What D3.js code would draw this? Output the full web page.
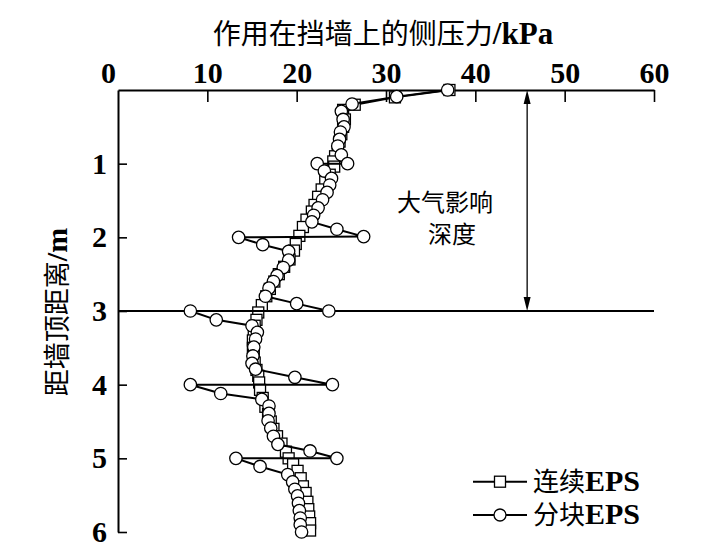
<!DOCTYPE html>
<html><head><meta charset="utf-8">
<script src="https://cdn.jsdelivr.net/npm/d3@7/dist/d3.min.js"></script>
<style>body{margin:0;background:#fff}</style>
</head><body>
<svg id="c" width="702" height="560"></svg>
<script>
// ---- data ----
const xTicks = [0, 10, 20, 30, 40, 50, 60];
const yTicks = [1, 2, 3, 4, 5, 6];
const seriesNames = ["连续EPS", "分块EPS"];
const contDepth = [0,0.1,0.2,0.27,0.4,0.5,0.6,0.7,0.8,0.9,0.97,1.04,1.15,1.24,1.35,1.45,1.56,1.65,1.76,1.86,1.98,2.09,2.18,2.3,2.4,2.5,2.6,2.7,2.8,2.92,3.02,3.12,3.2,3.3,3.4,3.5,3.6,3.7,3.8,3.88,3.97,4.07,4.18,4.3,4.4,4.5,4.6,4.7,4.8,4.91,5.0,5.08,5.17,5.27,5.38,5.47,5.59,5.69,5.79,5.88,5.98];
const contValue = [37.1,31.0,26.5,25.2,25.4,25.2,25.0,24.8,24.6,24.3,24.1,24.2,23.7,23.2,22.8,22.4,22.0,21.7,21.1,20.7,20.3,19.9,19.7,19.2,18.6,18.0,17.5,17.0,16.6,16.1,15.7,15.5,15.3,15.2,15.1,15.1,15.2,15.3,15.5,15.7,15.8,15.9,16.2,16.5,16.8,17.1,17.4,17.8,18.3,18.8,19.1,19.6,20.1,20.45,20.7,21.0,21.2,21.3,21.4,21.5,21.5];
const blockDepth = [0,0.09,0.19,0.29,0.4,0.5,0.57,0.67,0.76,0.88,1.0,1.0,1.1,1.2,1.29,1.39,1.49,1.6,1.7,1.79,1.89,1.99,2.0,2.1,2.19,2.31,2.41,2.52,2.6,2.69,2.8,2.9,3.0,3.0,3.12,3.2,3.29,3.38,3.49,3.61,3.71,3.79,3.9,4.0,4.0,4.12,4.2,4.29,4.39,4.49,4.59,4.7,4.81,4.9,5.0,5.0,5.11,5.22,5.32,5.42,5.51,5.61,5.71,5.81,5.9,6.0];
const blockValue = [36.9,31.2,26.2,25.0,25.2,25.3,24.9,24.8,24.6,25.0,25.7,22.3,23.1,23.9,23.7,23.4,22.9,22.4,21.9,21.7,24.5,27.5,13.5,16.2,19.1,19.1,18.5,17.8,17.4,16.9,16.5,20.0,23.6,8.1,11.0,15.0,15.6,15.4,15.2,15.1,15.0,15.4,19.8,24.0,8.1,11.5,16.1,16.9,16.9,16.8,17.1,17.4,17.9,21.5,24.5,13.2,15.9,19.0,19.55,19.8,20.1,20.2,20.3,20.4,20.4,20.55];
const influenceDepth = 3;
const arrowX = 45.8;

// ---- drawing ----
const svg = d3.select("#c");
const x = d3.scaleLinear().domain([0, 60]).range([118, 654]);
const y = d3.scaleLinear().domain([0, 6]).range([90, 532]);
const CJK = "'Noto Sans CJK SC', sans-serif";
const SERIF = "'Liberation Serif', 'Times New Roman', serif";

// top axis
const gx = svg.append("g").attr("transform", `translate(0,${y(0)})`)
  .call(d3.axisTop(x).tickValues(xTicks).tickFormat(d3.format("d")).tickSizeInner(-12).tickSizeOuter(0).tickPadding(7));
gx.select(".domain").attr("stroke-width", 2);
gx.selectAll(".tick line").attr("stroke-width", 1.6);
gx.selectAll(".tick text").attr("font-family", SERIF).attr("font-weight", "bold")
  .attr("font-size", 30).attr("fill", "#000")
  .attr("dx", d => d === 0 ? -10 : 0);
gx.selectAll(".tick").filter(d => d === 0).select("line").remove();

// left axis
const gy = svg.append("g").attr("transform", `translate(${x(0)},0)`)
  .call(d3.axisLeft(y).tickValues(yTicks).tickFormat(d3.format("d")).tickSizeInner(-9).tickSizeOuter(0).tickPadding(11));
gy.select(".domain").attr("stroke-width", 2);
gy.selectAll(".tick line").attr("stroke-width", 1.6);
gy.selectAll(".tick text").attr("font-family", SERIF).attr("font-weight", "bold")
  .attr("font-size", 30).attr("fill", "#000");

// influence depth line
svg.append("line").attr("x1", x(0)).attr("x2", x(60))
  .attr("y1", y(influenceDepth)).attr("y2", y(influenceDepth))
  .attr("stroke", "#000").attr("stroke-width", 1.8);

// double arrow
const ax = x(arrowX), ay0 = y(0), ay1 = y(influenceDepth);
svg.append("line").attr("x1", ax).attr("x2", ax).attr("y1", ay0 + 8).attr("y2", ay1 - 8)
  .attr("stroke", "#000").attr("stroke-width", 1.3);
svg.append("path").attr("d", `M${ax},${ay0} L${ax-3.5},${ay0+14} L${ax+3.5},${ay0+14} Z`).attr("fill", "#000");
svg.append("path").attr("d", `M${ax},${ay1} L${ax-3.5},${ay1-14} L${ax+3.5},${ay1-14} Z`).attr("fill", "#000");

svg.append("text").attr("x", 397).attr("y", 211).attr("font-family", CJK).attr("font-size", 24).text("大气影响");
svg.append("text").attr("x", 428).attr("y", 243).attr("font-family", CJK).attr("font-size", 24).text("深度");

// series
const cont = contDepth.map((d, i) => ({d, v: contValue[i]}));
const block = blockDepth.map((d, i) => ({d, v: blockValue[i]}));
const line = d3.line().x(p => x(p.v)).y(p => y(p.d));

svg.append("path").datum(cont).attr("d", line).attr("fill", "none").attr("stroke", "#000").attr("stroke-width", 2);
svg.append("g").selectAll("rect").data(cont).join("rect")
  .attr("x", p => x(p.v) - 5.5).attr("y", p => y(p.d) - 5.5).attr("width", 11).attr("height", 11)
  .attr("fill", "#fff").attr("stroke", "#000").attr("stroke-width", 1.3);

svg.append("path").datum(block).attr("d", line).attr("fill", "none").attr("stroke", "#000").attr("stroke-width", 2);
svg.append("g").selectAll("circle").data(block).join("circle")
  .attr("cx", p => x(p.v)).attr("cy", p => y(p.d)).attr("r", 6.2)
  .attr("fill", "#fff").attr("stroke", "#000").attr("stroke-width", 1.3);

// titles
const t = svg.append("text").attr("x", 383).attr("y", 44).attr("text-anchor", "middle");
t.append("tspan").attr("font-family", CJK).attr("font-size", 28).text("作用在挡墙上的侧压力");
t.append("tspan").attr("font-family", SERIF).attr("font-weight", "bold").attr("font-size", 31).text("/kPa");

const yl = svg.append("text").attr("transform", "translate(67,312) rotate(-90)").attr("text-anchor", "middle");
yl.append("tspan").attr("font-family", CJK).attr("font-size", 27).text("距墙顶距离");
yl.append("tspan").attr("font-family", SERIF).attr("font-weight", "bold").attr("font-size", 30).text("/m");

// legend
const legY = [481.7, 515];
seriesNames.forEach((name, i) => {
  const g = svg.append("g");
  g.append("line").attr("x1", 473).attr("x2", 527).attr("y1", legY[i]).attr("y2", legY[i])
    .attr("stroke", "#000").attr("stroke-width", 2);
  if (i === 0) {
    g.append("rect").attr("x", 500 - 5.5).attr("y", legY[i] - 5.5).attr("width", 11).attr("height", 11)
      .attr("fill", "#fff").attr("stroke", "#000").attr("stroke-width", 1.3);
  } else {
    g.append("circle").attr("cx", 500).attr("cy", legY[i]).attr("r", 6)
      .attr("fill", "#fff").attr("stroke", "#000").attr("stroke-width", 1.3);
  }
  const tx = g.append("text").attr("x", 533).attr("y", legY[i] + 9);
  tx.append("tspan").attr("font-family", CJK).attr("font-size", 26).text(name.slice(0, 2));
  tx.append("tspan").attr("font-family", SERIF).attr("font-weight", "bold").attr("font-size", 30).text(name.slice(2));
});
</script>
</body></html>
